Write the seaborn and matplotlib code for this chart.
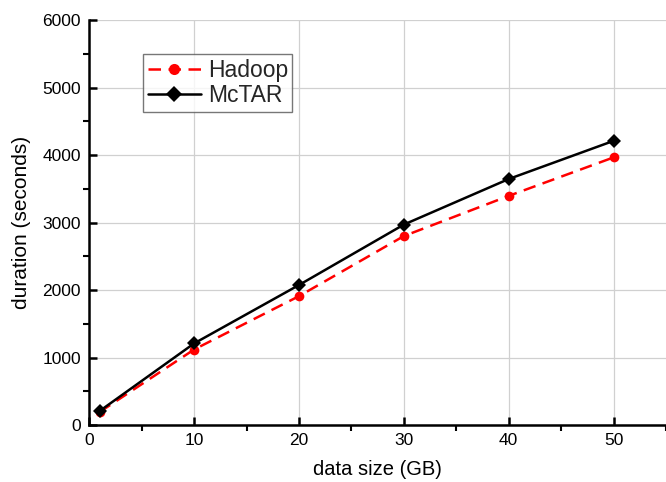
import pandas as pd
import numpy as np
import seaborn as sns
import matplotlib.pyplot as plt
from matplotlib.ticker import MultipleLocator

sizes = [1, 10, 20, 30, 40, 50]
hadoop = [195, 1120, 1910, 2800, 3395, 3965]
mctar = [210, 1210, 2075, 2970, 3645, 4210]

df = pd.DataFrame({
    'size': sizes * 2,
    'duration': hadoop + mctar,
    'system': ['Hadoop'] * len(sizes) + ['McTAR'] * len(sizes),
})

sns.set_style('white')
plt.rcParams['font.family'] = ['Liberation Sans', 'DejaVu Sans']

fig = plt.figure(figsize=(6.66, 4.82), dpi=100)
ax = fig.add_axes([0.134, 0.118, 0.866, 0.8405])

sns.lineplot(data=df, x='size', y='duration', hue='system', style='system',
             palette={'Hadoop': 'red', 'McTAR': 'black'},
             dashes={'Hadoop': (5, 3), 'McTAR': ''},
             markers={'Hadoop': 'o', 'McTAR': 'D'},
             markersize=7, markeredgewidth=0, linewidth=1.8, ax=ax)

ax.set_xlim(0, 55)
ax.set_ylim(0, 6000)
ax.xaxis.set_major_locator(MultipleLocator(10))
ax.xaxis.set_minor_locator(MultipleLocator(5))
ax.yaxis.set_major_locator(MultipleLocator(1000))
ax.yaxis.set_minor_locator(MultipleLocator(500))
ax.grid(True, which='major', color='#d0d0d0', linewidth=0.9)
ax.set_axisbelow(True)
for s in ['top', 'right']:
    ax.spines[s].set_visible(False)
for s in ['left', 'bottom']:
    ax.spines[s].set_linewidth(1.8)
    ax.spines[s].set_color('black')
ax.tick_params(which='major', direction='in', length=6, width=1.8, labelsize=12.5,
               pad=6, left=True, bottom=True, color='black', labelcolor='black')
ax.tick_params(which='minor', direction='out', length=4.5, width=1.5,
               left=True, bottom=True, color='black')
ax.set_xlabel('data size (GB)', fontsize=14.5, color='black', labelpad=8)
ax.set_ylabel('duration (seconds)', fontsize=15, color='black', labelpad=8)

leg = ax.legend(loc='upper left', bbox_to_anchor=(0.094, 0.915), fontsize=16.5,
                frameon=True, fancybox=False, edgecolor='#555555',
                handlelength=2.3, borderpad=0.2, labelspacing=0.1, handletextpad=0.3,
                borderaxespad=0)
leg.get_frame().set_linewidth(1.0)
for h in leg.legend_handles:
    h.set_markersize(8)

fig.savefig('out.png', dpi=100)
